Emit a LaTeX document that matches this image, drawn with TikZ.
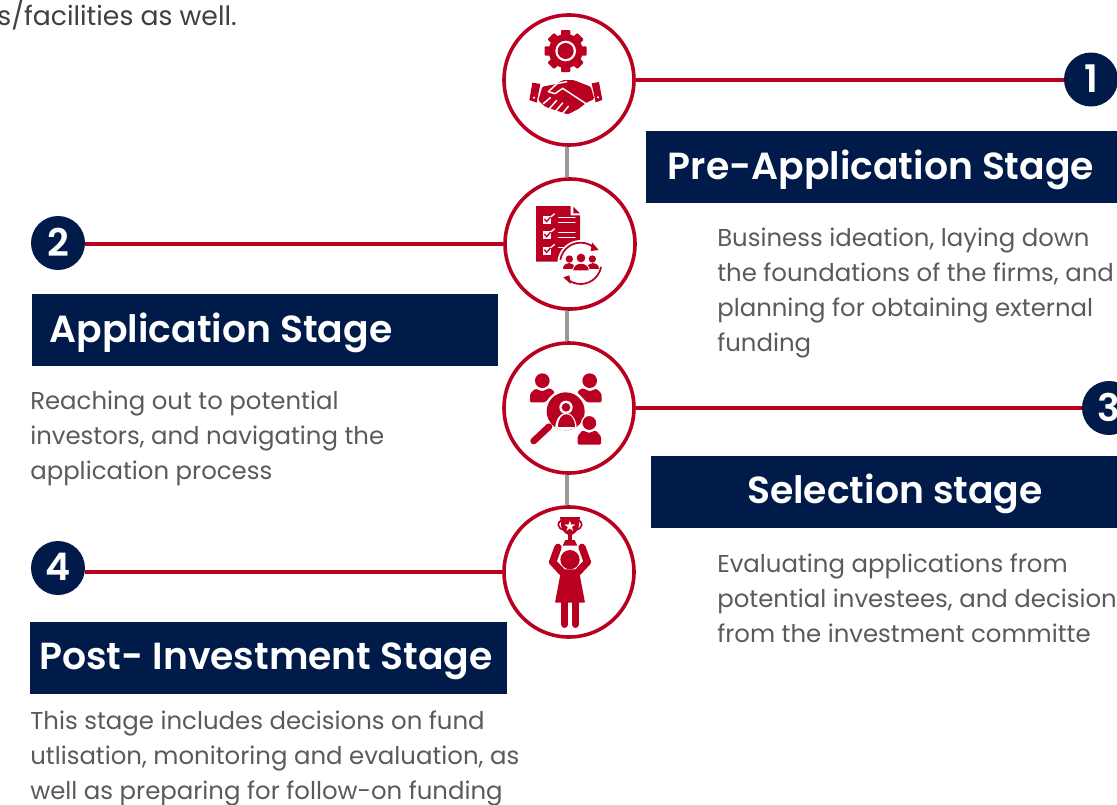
\documentclass[tikz,border=0pt]{standalone}
\usepackage{fontspec}
\setmainfont{Poppins}[BoldFont=Poppins SemiBold]
\definecolor{NavyBand}{HTML}{001B4A}
\definecolor{StageRed}{HTML}{B90021}
\definecolor{SpineGray}{HTML}{999999}
\definecolor{BodyGray}{HTML}{5A5A5A}
\definecolor{TopGray}{HTML}{404040}
\tikzset{
  stagering/.style={circle,draw=StageRed,line width=2.7pt,fill=white,minimum size=97.5pt,inner sep=0pt},
  stageband/.style={fill=NavyBand,inner sep=0pt,anchor=north west,minimum height=54pt},
  stagetitle/.style={text=white,font=\fontsize{28.3pt}{32pt}\selectfont\bfseries,inner sep=0pt},
  stagebadge/.style={circle,fill=NavyBand,text=white,font=\fontsize{28.5pt}{32pt}\selectfont\bfseries,minimum size=40.5pt,inner sep=0pt,text depth=1.5pt},
  stagetext/.style={text=BodyGray,font=\fontsize{18.3pt}{26.2pt}\selectfont,align=left,anchor=north west,inner sep=0pt},
  stageline/.style={draw=StageRed,line width=2.5pt},
  spine/.style={draw=SpineGray,line width=3pt},
  % coordinates inside an icon are read off the 3x crops
  iconscope/.style={shift={#1},x=0.25pt,y=-0.25pt},
  iconfill/.style={fill=StageRed,draw=none},
  iconcut/.style={draw=white,line width=1.1pt,line cap=round}
}
\begin{document}
\begin{tikzpicture}[x=0.75pt,y=-0.75pt]
  \useasboundingbox (0,0) rectangle (1117,804);
  \clip (0,0) rectangle (1117,804);

  \node[stagering] (ringa) at (569,80) {};
  \node[stagering] (ringb) at (570,244) {};
  \node[stagering] (ringc) at (569,408) {};
  \node[stagering] (ringd) at (569,572) {};
  \draw[spine] ([xshift=-1.5pt]ringa.south) -- ([xshift=-2.25pt]ringb.north);
  \draw[spine] ([xshift=-2.25pt]ringb.south) -- ([xshift=-1.5pt]ringc.north);
  \draw[spine] ([xshift=-1.5pt]ringc.south) -- ([xshift=-1.5pt]ringd.north);

  \node[stagebadge] (badgea) at (1091,79.5) {1};
  \node[stagebadge] (badgeb) at (58,243) {2};
  \node[stagebadge] (badgec) at (1109,408) {3};
  \node[stagebadge] (badged) at (58,568) {4};
  \draw[stageline] (ringa) -- (ringa -| badgea.west);
  \draw[stageline] (ringb) -- (ringb -| badgeb.east);
  \draw[stageline] (ringc) -- (ringc -| badgec.west);
  \draw[stageline] (ringd) -- (ringd -| badged.east);

  \node[stageband,minimum width=357pt] (banda) at (646,131) {};
  \node[stagetitle] (titlea) at (881,170) {Pre-Application Stage};
  \node[stageband,minimum width=349.5pt] (bandb) at (32,294) {};
  \node[stagetitle] (titleb) at (221,333) {Application Stage};
  \node[stageband,minimum width=350pt] (bandc) at (651,456) {};
  \node[stagetitle] (titlec) at (895,494) {Selection stage};
  \node[stageband,minimum width=357.5pt] (bandd) at (30,622) {};
  \node[stagetitle] (titled) at (266,661) {Post- Investment Stage};

  \node[text=TopGray,font=\fontsize{20pt}{26pt}\selectfont,inner sep=0pt,anchor=east] (texttop) at (237,15) {s/facilities as well.};
  \node[stagetext] (texta) at (717,228) {Business ideation, laying down\\the foundations of the firms, and\\planning for obtaining external\\funding};
  \node[stagetext] (textb) at (30,391) {Reaching out to potential\\investors, and navigating the\\application process};
  \node[stagetext] (textc) at (717,554) {Evaluating applications from\\potential investees, and decision\\from the investment committe};
  \node[stagetext] (textd) at (30,711) {This stage includes decisions on fund\\utlisation, monitoring and evaluation, as\\well as preparing for follow-on funding};

  % gear and handshake
  \begin{scope}[iconscope={(525,25)}]
    \fill[iconfill] (122,78) circle (51);
    \foreach \a in {0,45,...,315}
      \fill[iconfill,rotate around={\a:(122,78)},rounded corners=0.7pt] (108,15) rectangle (136,45);
    \fill[white] (122,78) circle (31);
    \fill[iconfill] (122,78) circle (24);
    \fill[iconfill] (22,173) -- (46,177) -- (35,233) -- (13,225) -- cycle;
    \fill[iconfill] (200,175) -- (222,171) -- (232,225) -- (212,232) -- cycle;
    \fill[white] (27,218) circle (3.5) (219,217) circle (3.5);
    \fill[iconfill,rounded corners=1pt] (52,185) -- (90,178) -- (115,165) -- (145,165) -- (197,185) -- (208,222) -- (186,232) -- (160,252) -- (128,268) -- (60,245) -- (40,226) -- cycle;
    \draw[iconcut] (70,200) -- (96,176) -- (125,170);
    \draw[iconcut] (70,200) -- (90,206) -- (113,190) -- (186,238);
    \draw[iconcut] (55,236) -- (76,218);
    \draw[iconcut] (74,250) -- (95,226);
    \draw[iconcut] (92,258) -- (113,234);
    \draw[iconcut] (112,266) -- (130,244);
  \end{scope}

  % checklist and people in a cycle
  \begin{scope}[iconscope={(530,200)}]
    \fill[iconfill] (18,18) -- (122,18) -- (122,46) -- (150,46) -- (150,190) -- (100,185) -- (18,185) -- cycle;
    \fill[iconfill] (130,20) -- (150,40) -- (130,40) -- cycle;
    \foreach \y in {48,93,140} {
      \fill[white] (38,\y) rectangle (62,\y+24);
      \draw[StageRed,line width=1pt] (43,\y+9) -- (50,\y+17) -- (62,\y+3);
      \draw[white,line width=1pt] (62,\y+3) -- (74,\y-7);
    }
    \draw[iconcut] (86,52) -- (135,52);
    \draw[iconcut] (86,68) -- (135,68);
    \draw[iconcut] (86,97) -- (135,97);
    \draw[iconcut] (86,112) -- (135,112);
    \draw[iconcut] (86,143) -- (110,143);
    \fill[white] (152,190) circle (70);
    \draw[StageRed,line width=1.3pt] (152,190) ++(-170:62) arc[start angle=-170,end angle=-42,radius=62];
    \draw[StageRed,line width=1.3pt] (152,190) ++(10:62) arc[start angle=10,end angle=138,radius=62];
    \fill[iconfill] (186,127) -- (206,150) -- (182,153) -- cycle;
    \fill[iconfill] (118,226) -- (122,252) -- (100,232) -- cycle;
    \fill[iconfill] (118,177) circle (11) (153,174) circle (13) (187,177) circle (11);
    \fill[iconfill] (100,208) .. controls (100,184) and (134,184) .. (134,208) -- cycle;
    \fill[iconfill] (172,208) .. controls (172,184) and (206,184) .. (206,208) -- cycle;
    \filldraw[fill=StageRed,draw=white,line width=0.6pt] (128,212) .. controls (128,182) and (178,182) .. (178,212) -- cycle;
  \end{scope}

  % people under a magnifier
  \begin{scope}[iconscope={(525,368)}]
    \fill[iconfill] (52,38) circle (22) (194,38) circle (22);
    \fill[iconfill,rounded corners=1pt] (15,103) -- (15,78) -- (30,62) -- (52,70) -- (74,60) -- (90,72) -- (60,103) -- cycle;
    \fill[iconfill,rounded corners=1pt] (230,103) -- (230,78) -- (215,62) -- (194,70) -- (172,60) -- (156,72) -- (186,103) -- cycle;
    \fill[white] (122,130) circle (64);
    \fill[iconfill] (122,130) circle (57);
    \fill[white] (123,118) circle (20);
    \fill[iconfill] (123,118) circle (13);
    \begin{scope}
      \clip (122,130) circle (57);
      \fill[white] (91,190) .. controls (91,118) and (157,118) .. (157,190) -- cycle;
      \fill[iconfill] (99,178) .. controls (99,127) and (149,127) .. (149,178) -- cycle;
    \end{scope}
    \draw[StageRed,line width=5pt,line cap=round] (72,176) -- (26,219);
    \filldraw[fill=StageRed,draw=white,line width=1pt] (193,165) circle (23);
    \fill[iconfill,rounded corners=1pt] (158,230) -- (158,205) -- (172,187) -- (193,195) -- (212,187) -- (228,205) -- (228,230) -- cycle;
  \end{scope}

  % figure holding a cup
  \begin{scope}[iconscope={(540,512)}]
    \draw[StageRed,line width=1.2pt] (70,25) .. controls (48,25) and (50,52) .. (74,54);
    \draw[StageRed,line width=1.2pt] (110,25) .. controls (132,25) and (130,52) .. (106,54);
    \fill[iconfill] (60,15) -- (120,15) -- (116,45) .. controls (112,60) and (100,68) .. (90,70) .. controls (80,68) and (68,60) .. (64,45) -- cycle;
    \fill[iconfill] (85,65) rectangle (95,88);
    \fill[iconfill] (76,84) -- (104,84) -- (112,101) -- (68,101) -- cycle;
    \node[text=white,font=\fontsize{11pt}{11pt}\selectfont,inner sep=0pt] (cupstar) at (90,42) {\fontspec{DejaVu Sans}★};
    \fill[iconfill] (90,143) circle (29);
    \draw[StageRed,line width=5.5pt,line cap=round,line join=round] (54,106) -- (38,150) -- (66,180);
    \draw[StageRed,line width=5.5pt,line cap=round,line join=round] (126,106) -- (142,150) -- (114,180);
    \fill[iconfill,rounded corners=0.5pt] (64,172) -- (116,172) -- (135,272) -- (45,272) -- cycle;
    \draw[StageRed,line width=5.5pt,line cap=round] (74,272) -- (74,337);
    \draw[StageRed,line width=5.5pt,line cap=round] (106,272) -- (106,337);
  \end{scope}
\end{tikzpicture}
\end{document}
